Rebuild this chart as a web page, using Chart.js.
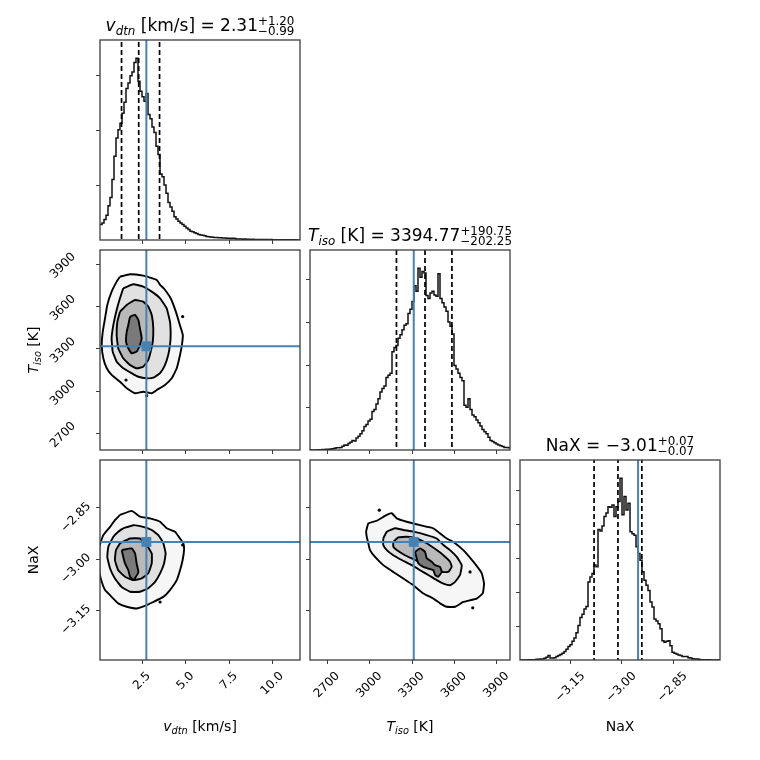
<!DOCTYPE html>
<html>
<head>
<meta charset="utf-8">
<script src="https://cdn.jsdelivr.net/npm/chart.js@4.4.1/dist/chart.umd.min.js"></script>
<style>
  body { margin: 0; background: #fff; }
  #wrap { position: relative; width: 760px; height: 760px; }
  #wrap canvas { position: absolute; left: 0; top: 0; }
</style>
</head>
<body>
<div id="wrap"></div>
<script>
// axis ranges
const vdtnRange = [0.08, 11.6];
const tisoRange = [2580, 3997];
const naxRange = [-3.297, -2.711];

// tick positions and labels
const vdtnTicks = [2.5, 5.0, 7.5, 10.0];
const vdtnTickLabels = ["2.5", "5.0", "7.5", "10.0"];
const tisoTicks = [2700, 3000, 3300, 3600, 3900];
const tisoTickLabels = ["2700", "3000", "3300", "3600", "3900"];
const naxTicks = [-3.15, -3.00, -2.85];
const naxTickLabels = ["\u22123.15", "\u22123.00", "\u22122.85"];
const vdtnCountTicks = [1, 2, 3];
const tisoCountTicks = [1, 2, 3, 4];
const naxCountTicks = [1, 2, 3, 4, 5];

// 1D histograms (100 bins across each range, counts in tick units)
const vdtnHist = [
  0.28, 0.31, 0.37, 0.45, 0.62, 0.77, 1.10, 1.52, 1.85, 2.00,
  2.12, 2.30, 2.50, 2.75, 2.85, 2.98, 3.05, 3.22, 3.30, 2.88,
  2.70, 2.60, 2.52, 2.66, 2.28, 2.20, 2.05, 1.95, 1.70, 1.55,
  1.20, 1.15, 1.00, 0.85, 0.68, 0.60, 0.52, 0.42, 0.38, 0.34,
  0.31, 0.28, 0.25, 0.22, 0.19, 0.16, 0.15, 0.13, 0.12, 0.10,
  0.09, 0.085, 0.075, 0.065, 0.06, 0.055, 0.05, 0.045, 0.045, 0.04,
  0.04, 0.035, 0.035, 0.03, 0.03, 0.025, 0.03, 0.025, 0.02, 0.02,
  0.02, 0.015, 0.02, 0.015, 0.015, 0.01, 0.015, 0.01, 0.01, 0.01,
  0.01, 0.008, 0.01, 0.008, 0.006, 0.008, 0.006, 0.005, 0.006, 0.005,
  0.004, 0.005, 0.004, 0.003, 0.004, 0.003, 0.002, 0.003, 0.002, 0.002
];
const tisoHist = [
  0.0, 0.0, 0.0, 0.0, 0.005, 0.005, 0.01, 0.01, 0.015, 0.02,
  0.025, 0.03, 0.04, 0.05, 0.05, 0.06, 0.09, 0.12, 0.11, 0.15,
  0.18, 0.22, 0.21, 0.28, 0.32, 0.38, 0.45, 0.55, 0.60, 0.68,
  0.72, 0.90, 0.95, 1.08, 1.20, 1.36, 1.44, 1.50, 1.70, 1.75,
  1.80, 2.30, 2.40, 2.45, 2.62, 2.70, 2.82, 2.92, 2.96, 3.20,
  3.30, 3.48, 3.85, 3.72, 4.26, 4.05, 4.18, 4.15, 3.62, 3.55,
  3.68, 3.72, 3.63, 3.60, 4.13, 3.55, 3.45, 3.35, 3.25, 3.00,
  2.90, 2.72, 1.98, 1.90, 1.80, 1.70, 1.62, 1.05, 1.00, 1.20,
  0.95, 0.82, 0.78, 0.70, 0.64, 0.56, 0.48, 0.43, 0.38, 0.30,
  0.22, 0.20, 0.17, 0.14, 0.12, 0.10, 0.08, 0.06, 0.06, 0.05
];
const naxHist = [
  0.0, 0.0, 0.0, 0.0, 0.005, 0.005, 0.01, 0.01, 0.02, 0.02,
  0.03, 0.03, 0.05, 0.08, 0.13, 0.06, 0.06, 0.07, 0.10, 0.13,
  0.16, 0.20, 0.25, 0.32, 0.40, 0.45, 0.55, 0.65, 0.80, 1.02,
  1.25, 1.35, 1.50, 1.58, 2.30, 2.45, 2.55, 2.80, 2.75, 3.85,
  3.80, 3.95, 4.23, 4.33, 4.52, 4.50, 4.57, 4.23, 4.52, 4.67,
  5.36, 4.28, 4.82, 4.42, 4.62, 3.78, 3.72, 3.68, 3.34, 3.14,
  2.94, 2.60, 2.35, 2.20, 2.05, 1.71, 1.56, 1.21, 1.15, 1.07,
  0.92, 0.57, 0.52, 0.55, 0.57, 0.42, 0.23, 0.20, 0.18, 0.15,
  0.13, 0.10, 0.10, 0.10, 0.07, 0.06, 0.04, 0.03, 0.03, 0.02,
  0.01, 0.01, 0.01, 0.005, 0.005, 0.0, 0.0, 0.0, 0.0, 0.0
];

// 16/50/84 quantiles and truth values
const vdtnQuantiles = [1.32, 2.31, 3.51];
const tisoQuantiles = [3192.52, 3394.77, 3585.52];
const naxQuantiles = [-3.08, -3.01, -2.94];
const vdtnTruth = 2.75;
const tisoTruth = 3315;
const naxTruth = -2.951;

// contours v_dtn vs T_iso  [v, T]
const vtOuter = [[1.23,3808],[1.81,3825],[2.57,3815],[3.0,3800],[3.35,3785],[3.54,3750],[3.75,3726],[4.15,3655],[4.45,3560],[4.68,3466],[4.85,3395],[4.80,3324],[4.69,3253],[4.50,3159],[4.21,3088],[3.82,3041],[3.35,3005],[3.06,2982],[2.57,2993],[2.10,2982],[1.62,3017],[1.23,3064],[0.75,3112],[0.47,3159],[0.27,3230],[0.18,3324],[0.24,3418],[0.37,3513],[0.50,3608],[0.75,3702],[1.04,3773]];
const vtMid = [[1.42,3726],[2.00,3754],[2.57,3737],[3.06,3702],[3.54,3655],[3.92,3584],[4.11,3489],[4.15,3395],[4.11,3324],[4.01,3253],[3.82,3182],[3.54,3124],[3.15,3092],[2.77,3088],[2.29,3099],[1.91,3124],[1.42,3159],[1.04,3206],[0.81,3277],[0.75,3372],[0.85,3466],[1.04,3572],[1.23,3655]];
const vtInner = [[1.23,3560],[1.62,3608],[2.10,3643],[2.57,3631],[2.86,3596],[3.06,3537],[3.15,3442],[3.12,3348],[3.00,3277],[2.86,3218],[2.57,3170],[2.19,3159],[1.81,3182],[1.42,3230],[1.13,3301],[1.04,3395],[1.08,3489]];
const vtCore = [[1.81,3525],[2.10,3537],[2.29,3501],[2.38,3442],[2.48,3372],[2.38,3324],[2.19,3277],[1.91,3265],[1.71,3301],[1.58,3348],[1.62,3418],[1.71,3466]];
const vtDots = [[4.84,3525],[1.58,3076],[2.77,2965]];

// contours v_dtn vs NaX  [v, NaX]
const vnOuter = [[1.23,-2.872],[1.91,-2.860],[2.38,-2.877],[2.96,-2.882],[3.54,-2.892],[3.92,-2.911],[4.40,-2.921],[4.69,-2.941],[4.88,-2.955],[4.92,-2.975],[4.84,-3.004],[4.69,-3.034],[4.50,-3.063],[4.11,-3.092],[3.73,-3.112],[3.15,-3.127],[2.77,-3.136],[2.19,-3.146],[1.62,-3.141],[1.13,-3.131],[0.75,-3.112],[0.37,-3.092],[0.18,-3.068],[0.05,-3.039],[0.05,-2.965],[0.27,-2.931],[0.66,-2.907],[0.94,-2.887]];
const vnMid = [[1.42,-2.911],[2.00,-2.902],[2.57,-2.907],[3.06,-2.916],[3.44,-2.931],[3.73,-2.955],[3.86,-2.985],[3.77,-3.014],[3.54,-3.043],[3.25,-3.068],[2.86,-3.087],[2.38,-3.097],[1.81,-3.097],[1.33,-3.083],[0.94,-3.058],[0.66,-3.029],[0.50,-2.995],[0.56,-2.965],[0.85,-2.936],[1.13,-2.921]];
const vnInner = [[1.23,-2.955],[1.81,-2.941],[2.38,-2.941],[2.77,-2.960],[3.06,-2.985],[3.06,-3.014],[2.86,-3.043],[2.48,-3.058],[2.00,-3.063],[1.52,-3.053],[1.13,-3.034],[0.94,-3.004],[1.00,-2.975]];
const vnCore = [[1.33,-2.975],[1.91,-2.970],[2.10,-2.985],[2.19,-3.014],[2.29,-3.039],[2.15,-3.053],[2.00,-3.063],[1.81,-3.053],[1.71,-3.034],[1.52,-3.014],[1.42,-2.995]];
const vnDots = [[3.54,-3.127],[4.84,-2.960]];

// contours T_iso vs NaX  [T, NaX]
const tnOuter = [[2977,-2.921],[2993,-2.897],[3053,-2.889],[3124,-2.872],[3159,-2.867],[3194,-2.882],[3265,-2.892],[3360,-2.902],[3454,-2.911],[3501,-2.926],[3549,-2.941],[3596,-2.951],[3666,-2.975],[3737,-3.009],[3797,-3.043],[3813,-3.073],[3804,-3.102],[3761,-3.117],[3714,-3.122],[3666,-3.127],[3608,-3.141],[3549,-3.141],[3501,-3.131],[3454,-3.117],[3383,-3.102],[3312,-3.078],[3241,-3.058],[3170,-3.039],[3099,-3.019],[3041,-2.995],[3005,-2.975],[2993,-2.955],[2982,-2.936]];
const tnMid = [[3099,-2.941],[3124,-2.921],[3182,-2.911],[3241,-2.916],[3312,-2.921],[3407,-2.931],[3478,-2.941],[3525,-2.960],[3572,-2.975],[3620,-2.995],[3655,-3.019],[3643,-3.048],[3608,-3.068],[3572,-3.078],[3525,-3.073],[3478,-3.063],[3418,-3.048],[3360,-3.034],[3301,-3.019],[3230,-3.004],[3170,-2.990],[3124,-2.975],[3099,-2.960]];
const tnInner = [[3170,-2.951],[3206,-2.938],[3265,-2.936],[3336,-2.941],[3407,-2.955],[3478,-2.975],[3525,-2.990],[3572,-3.009],[3584,-3.024],[3560,-3.039],[3513,-3.039],[3454,-3.029],[3395,-3.019],[3324,-3.004],[3253,-2.990],[3194,-2.975],[3170,-2.965]];
const tnCore = [[3324,-2.980],[3360,-2.970],[3395,-2.980],[3407,-2.999],[3442,-3.009],[3466,-3.019],[3501,-3.024],[3513,-3.039],[3489,-3.053],[3466,-3.048],[3454,-3.034],[3418,-3.029],[3383,-3.024],[3348,-3.014],[3336,-2.999]];
const tnDots = [[3071,-2.858],[3733,-3.144],[3714,-3.039]];

// ---------------------------------------------------------------
const W = 760, H = 760, S = 200;
const colX = [100, 310, 520];
const rowY = [40, 250, 460];
const FONT = '"DejaVu Sans", sans-serif';
const TRUTH = "#4682b4";
const FRAME = "#3c3c3c";
const wrap = document.getElementById("wrap");

// titles / labels as rich text runs
const vdtnLabel = [{t: "v", it: 1}, {t: "dtn", it: 1, sc: 0.7, dy: 0.22}, {t: " [km/s]"}];
const tisoLabel = [{t: "T", it: 1}, {t: "iso", it: 1, sc: 0.7, dy: 0.22}, {t: " [K]"}];
const naxLabel = [{t: "NaX"}];
const vdtnTitle = vdtnLabel.concat([{t: " = 2.31"}, {sup: "+1.20", sub: "\u22120.99"}]);
const tisoTitle = tisoLabel.concat([{t: " = 3394.77"}, {sup: "+190.75", sub: "\u2212202.25"}]);
const naxTitle = [{t: "NaX = \u22123.01"}, {sup: "+0.07", sub: "\u22120.07"}];

function setFont(ctx, px, it) {
  ctx.font = (it ? "italic " : "") + px.toFixed(2) + "px " + FONT;
}
function runWidth(ctx, r, size) {
  if (r.sup !== undefined) {
    setFont(ctx, size * 0.7, false);
    return Math.max(ctx.measureText(r.sup).width, ctx.measureText(r.sub).width);
  }
  setFont(ctx, size * (r.sc || 1), r.it);
  return ctx.measureText(r.t).width;
}
function drawRich(ctx, runs, x, y, size) {
  const total = runs.reduce((s, r) => s + runWidth(ctx, r, size), 0);
  let cx = x - total / 2;
  ctx.textAlign = "left";
  ctx.textBaseline = "alphabetic";
  ctx.fillStyle = "#000";
  runs.forEach(r => {
    const w = runWidth(ctx, r, size);
    if (r.sup !== undefined) {
      setFont(ctx, size * 0.7, false);
      ctx.fillText(r.sup, cx, y - size * 0.36);
      ctx.fillText(r.sub, cx, y + size * 0.24);
    } else {
      setFont(ctx, size * (r.sc || 1), r.it);
      ctx.fillText(r.t, cx, y + (r.dy || 0) * size);
    }
    cx += w;
  });
}

// frame, ticks, labels
function decoPlugin(d) {
  return {
    id: "deco",
    afterDraw(chart) {
      const ctx = chart.ctx, a = chart.chartArea;
      const xs = chart.scales.x, ys = chart.scales.y;
      ctx.save();
      ctx.strokeStyle = FRAME;
      ctx.lineWidth = 1.3;
      ctx.strokeRect(a.left, a.top, a.right - a.left, a.bottom - a.top);
      ctx.beginPath();
      d.xTicks.forEach(v => {
        const px = Math.round(xs.getPixelForValue(v)) + 0.5;
        ctx.moveTo(px, a.bottom); ctx.lineTo(px, a.bottom + 4);
      });
      d.yTicks.forEach(v => {
        const py = Math.round(ys.getPixelForValue(v)) + 0.5;
        ctx.moveTo(a.left, py); ctx.lineTo(a.left - 4, py);
      });
      ctx.lineWidth = 1;
      ctx.stroke();

      ctx.fillStyle = "#000";
      if (d.xLabels) {
        setFont(ctx, 12, false);
        d.xTicks.forEach((v, i) => {
          const w = ctx.measureText(d.xLabels[i]).width;
          const half = (w + 12) * 0.3536;
          ctx.save();
          ctx.translate(xs.getPixelForValue(v), a.bottom + 10 + half);
          ctx.rotate(-Math.PI / 4);
          ctx.textAlign = "center"; ctx.textBaseline = "middle";
          ctx.fillText(d.xLabels[i], 0, 0);
          ctx.restore();
        });
      }
      if (d.yLabels) {
        setFont(ctx, 12, false);
        d.yTicks.forEach((v, i) => {
          ctx.save();
          ctx.translate(d.yLabelX, ys.getPixelForValue(v) + d.yLabelDy);
          ctx.rotate(-Math.PI / 4);
          ctx.textAlign = "center"; ctx.textBaseline = "middle";
          ctx.fillText(d.yLabels[i], 0, 0);
          ctx.restore();
        });
      }
      if (d.title) drawRich(ctx, d.title, (a.left + a.right) / 2, a.top - 9, 17);
      if (d.xAxisLabel) drawRich(ctx, d.xAxisLabel, (a.left + a.right) / 2, 731, 14);
      if (d.yAxisLabel) {
        ctx.save();
        ctx.translate(38, (a.top + a.bottom) / 2);
        ctx.rotate(-Math.PI / 2);
        drawRich(ctx, d.yAxisLabel, 0, 0, 14);
        ctx.restore();
      }
      ctx.restore();
    }
  };
}

// dataset builders
function pts(arr) { return arr.map(p => ({x: p[0], y: p[1]})); }
function histSet(range, values) {
  const n = values.length, step = (range[1] - range[0]) / n;
  const data = [];
  for (let i = 0; i <= n; i++) data.push({x: range[0] + i * step, y: values[Math.min(i, n - 1)]});
  return {data, stepped: "before", borderColor: "#111", borderWidth: 1.5, fill: false, pointRadius: 0, order: 3};
}
function vLine(x, yr, color, dash) {
  return {data: [{x, y: yr[0] - 1e3}, {x, y: yr[1] + 1e3}], borderColor: color, borderWidth: dash ? 1.7 : 2,
          borderDash: dash ? [5, 3] : [], pointRadius: 0, fill: false, order: dash ? 2 : 0};
}
function hLine(y, xr, color) {
  return {data: [{x: xr[0] - 1e4, y}, {x: xr[1] + 1e4, y}], borderColor: color, borderWidth: 2,
          pointRadius: 0, fill: false, order: 0};
}
function contourSet(arr, shade, order) {
  const data = pts(arr.concat([arr[0]]));
  return {data, fill: "shape", backgroundColor: shade, borderColor: "#000", borderWidth: 1.9,
          tension: 0.12, pointRadius: 0, order};
}
function dotSet(arr) {
  return {data: pts(arr), showLine: false, pointRadius: 1.6, pointBackgroundColor: "#000",
          pointBorderWidth: 0, order: 1};
}
function truthMark(x, y) {
  return {data: [{x, y}], showLine: false, pointStyle: "rect", pointRadius: 7,
          pointBackgroundColor: TRUTH, pointBorderWidth: 0, order: 0};
}
function contourPanel(outer, mid, inner, core, dots, tx, ty, xr, yr) {
  return [
    contourSet(outer, "#f6f6f6", 8),
    contourSet(mid, "#e1e1e1", 7),
    contourSet(inner, "#b9b9b9", 6),
    contourSet(core, "#7a7a7a", 5),
    dotSet(dots),
    vLine(tx, yr, TRUTH, false),
    hLine(ty, xr, TRUTH),
    truthMark(tx, ty)
  ];
}
function histPanel(range, values, quant, truth) {
  const yr = [0, Math.max.apply(null, values) * 1.1];
  return {yr, sets: [histSet(range, values)]
    .concat(quant.map(q => vLine(q, yr, "#000", true)))
    .concat([vLine(truth, yr, TRUTH, false)])};
}

function panel(col, row, xr, yr, datasets, deco) {
  const cv = document.createElement("canvas");
  cv.width = W; cv.height = H;
  cv.style.width = W + "px"; cv.style.height = H + "px";
  wrap.appendChild(cv);
  const x0 = colX[col], y0 = rowY[row];
  new Chart(cv, {
    type: "line",
    data: {datasets},
    options: {
      responsive: false,
      animation: false,
      layout: {padding: {left: x0, top: y0, right: W - x0 - S, bottom: H - y0 - S}},
      plugins: {legend: {display: false}, tooltip: {enabled: false}},
      scales: {
        x: {type: "linear", min: xr[0], max: xr[1], display: false},
        y: {type: "linear", min: yr[0], max: yr[1], display: false}
      }
    },
    plugins: [decoPlugin(deco)]
  });
}

// diagonal histograms
const h1 = histPanel(vdtnRange, vdtnHist, vdtnQuantiles, vdtnTruth);
panel(0, 0, vdtnRange, h1.yr, h1.sets, {xTicks: vdtnTicks, yTicks: vdtnCountTicks, title: vdtnTitle});
const h2 = histPanel(tisoRange, tisoHist, tisoQuantiles, tisoTruth);
panel(1, 1, tisoRange, h2.yr, h2.sets, {xTicks: tisoTicks, yTicks: tisoCountTicks, title: tisoTitle});
const h3 = histPanel(naxRange, naxHist, naxQuantiles, naxTruth);
panel(2, 2, naxRange, h3.yr, h3.sets, {xTicks: naxTicks, xLabels: naxTickLabels, yTicks: naxCountTicks,
  title: naxTitle, xAxisLabel: naxLabel});

// 2D panels
panel(0, 1, vdtnRange, tisoRange,
  contourPanel(vtOuter, vtMid, vtInner, vtCore, vtDots, vdtnTruth, tisoTruth, vdtnRange, tisoRange),
  {xTicks: vdtnTicks, yTicks: tisoTicks, yLabels: tisoTickLabels, yLabelX: 63, yLabelDy: 2, yAxisLabel: tisoLabel});
panel(0, 2, vdtnRange, naxRange,
  contourPanel(vnOuter, vnMid, vnInner, vnCore, vnDots, vdtnTruth, naxTruth, vdtnRange, naxRange),
  {xTicks: vdtnTicks, xLabels: vdtnTickLabels, yTicks: naxTicks, yLabels: naxTickLabels, yLabelX: 76, yLabelDy: 10,
   xAxisLabel: vdtnLabel, yAxisLabel: naxLabel});
panel(1, 2, tisoRange, naxRange,
  contourPanel(tnOuter, tnMid, tnInner, tnCore, tnDots, tisoTruth, naxTruth, tisoRange, naxRange),
  {xTicks: tisoTicks, xLabels: tisoTickLabels, yTicks: naxTicks, xAxisLabel: tisoLabel});
</script>
</body>
</html>
